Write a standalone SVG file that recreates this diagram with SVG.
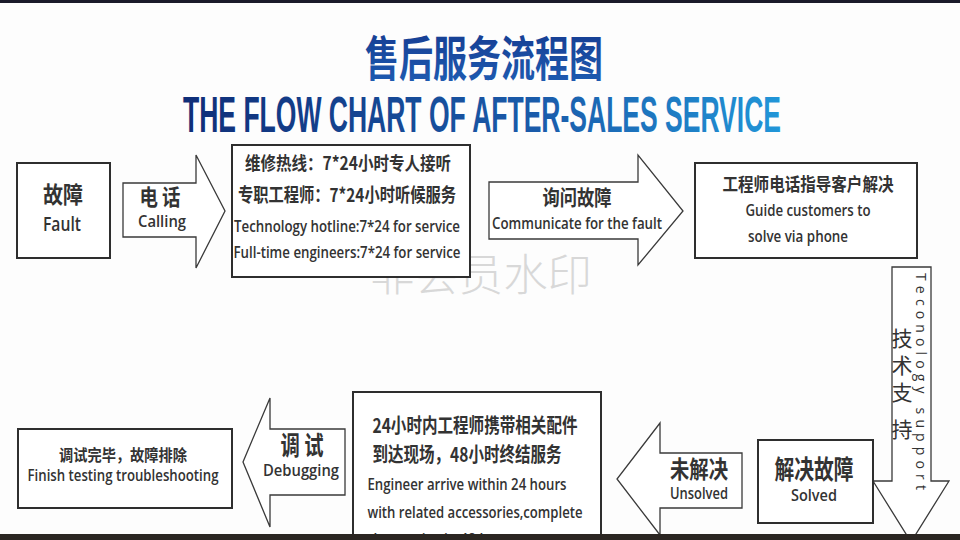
<svg xmlns="http://www.w3.org/2000/svg" width="960" height="540" viewBox="0 0 960 540">
<defs>
<linearGradient id="gCn" x1="0" y1="0" x2="0" y2="1">
<stop offset="0" stop-color="#14378c"/><stop offset="1" stop-color="#1f5fb5"/>
</linearGradient>
<linearGradient id="gEn" x1="0" y1="0" x2="1" y2="0">
<stop offset="0" stop-color="#0f2e78"/><stop offset="0.6" stop-color="#1a5cab"/><stop offset="1" stop-color="#2196d8"/>
</linearGradient>
<style>
.box{fill:#fff;stroke:#2e2e2e;stroke-width:2}
.arr{fill:#fff;stroke:#3a3a3a;stroke-width:1.3}
.cn{font-family:"Noto Sans CJK SC","Noto Sans",sans-serif;font-weight:700;fill:#333;text-anchor:middle}
.en{font-family:"Open Sans","Noto Sans",sans-serif;font-weight:600;fill:#333;text-anchor:middle}
.vcn{font-family:"Noto Sans CJK SC","Noto Sans",sans-serif;font-weight:400;font-size:21px;fill:#333;text-anchor:middle}
</style>
</defs>
<rect width="960" height="540" fill="#fdfdfd"/>
<rect width="960" height="3" fill="#1a1a2a"/>

<g id="title">
<text x="484" y="76" class="cn" font-size="48" style="fill:url(#gCn)" textLength="238" lengthAdjust="spacingAndGlyphs">售后服务流程图</text>
<text x="482" y="132" font-family="'Liberation Sans',Arial,sans-serif" font-weight="700" font-size="50" text-anchor="middle" fill="url(#gEn)" textLength="598" lengthAdjust="spacingAndGlyphs">THE FLOW CHART OF AFTER-SALES SERVICE</text>
</g>

<g id="watermark">
<text x="481" y="291" font-family="'Noto Sans CJK SC',sans-serif" font-weight="300" font-size="44" fill="#d8d8d8" text-anchor="middle" textLength="222" lengthAdjust="spacingAndGlyphs">非会员水印</text>
</g>

<g id="connectors">
<g id="arrow-calling">
<polygon class="arr" points="123,183 196,183 196,155 225,211 196,268 196,237 123,237"/>
<text x="160" y="205" class="cn" font-size="22" textLength="41" lengthAdjust="spacingAndGlyphs">电 话</text>
<text x="162" y="227" class="en" font-size="17" textLength="48" lengthAdjust="spacingAndGlyphs">Calling</text>
</g>
<g id="arrow-ask">
<polygon class="arr" points="489,182 638,182 638,155 683,211 638,265 638,239 489,239"/>
<text x="577" y="205" class="cn" font-size="21" textLength="69" lengthAdjust="spacingAndGlyphs">询问故障</text>
<text x="577" y="229" class="en" font-size="16" textLength="170" lengthAdjust="spacingAndGlyphs">Communicate for the fault</text>
</g>
<g id="arrow-support">
<polygon class="arr" points="892,267 931,267 931,481 949,481 911,542 873,481 892,481"/>
<text x="902" y="346" class="vcn">技</text>
<text x="902" y="373" class="vcn">术</text>
<text x="902" y="400" class="vcn">支</text>
<text x="902" y="437" class="vcn">持</text>
<text transform="translate(916,273) rotate(90)" x="0" y="0" font-family="'Open Sans','Noto Sans',sans-serif" font-size="14" fill="#333" textLength="217" lengthAdjust="spacing">Teconology support</text>
</g>
<g id="arrow-unsolved">
<polygon class="arr" points="742,453 660,453 660,423 617,479 660,535 660,508 742,508"/>
<text x="699" y="478" class="cn" font-size="24" textLength="58" lengthAdjust="spacingAndGlyphs">未解决</text>
<text x="699" y="499" class="en" font-size="16" textLength="58" lengthAdjust="spacingAndGlyphs">Unsolved</text>
</g>
<g id="arrow-debug">
<polygon class="arr" points="345,429 270,429 270,398 243,462 270,527 270,495 345,495"/>
<text x="302" y="455" class="cn" font-size="26" textLength="43" lengthAdjust="spacingAndGlyphs">调 试</text>
<text x="301" y="476" class="en" font-size="17" textLength="76" lengthAdjust="spacingAndGlyphs">Debugging</text>
</g>
</g>

<g id="node-fault">
<rect class="box" x="17" y="163" width="93" height="95"/>
<text x="63" y="203" class="cn" font-size="23" textLength="40" lengthAdjust="spacingAndGlyphs">故障</text>
<text x="62" y="231" class="en" font-size="19" textLength="38" lengthAdjust="spacingAndGlyphs">Fault</text>
</g>

<g id="node-hotline">
<rect class="box" x="232" y="145" width="238" height="132"/>
<text x="348" y="170" class="cn" font-size="18" textLength="206" lengthAdjust="spacingAndGlyphs">维修热线：7*24小时专人接听</text>
<text x="347" y="202" class="cn" font-size="19" textLength="218" lengthAdjust="spacingAndGlyphs">专职工程师：7*24小时听候服务</text>
<text x="347" y="232" class="en" font-size="16" textLength="226" lengthAdjust="spacingAndGlyphs">Technology hotline:7*24 for service</text>
<text x="347" y="258" class="en" font-size="16" textLength="227" lengthAdjust="spacingAndGlyphs">Full-time engineers:7*24 for service</text>
</g>

<g id="node-guide">
<rect class="box" x="695" y="163" width="222" height="95"/>
<text x="808" y="191" class="cn" font-size="18" textLength="171" lengthAdjust="spacingAndGlyphs">工程师电话指导客户解决</text>
<text x="808" y="216" class="en" font-size="16" font-weight="500" textLength="125" lengthAdjust="spacingAndGlyphs">Guide customers to</text>
<text x="798" y="242" class="en" font-size="16" font-weight="500" textLength="100" lengthAdjust="spacingAndGlyphs">solve via phone</text>
</g>

<g id="node-solved">
<rect class="box" x="758" y="440" width="115" height="83"/>
<text x="814" y="479" class="cn" font-size="26" textLength="79" lengthAdjust="spacingAndGlyphs">解决故障</text>
<text x="814" y="501" class="en" font-size="17" font-weight="500" textLength="46" lengthAdjust="spacingAndGlyphs">Solved</text>
</g>

<g id="node-onsite">
<rect class="box" x="353" y="392" width="248" height="160"/>
<text x="475" y="433" class="cn" font-size="20" textLength="205" lengthAdjust="spacingAndGlyphs">24小时内工程师携带相关配件</text>
<text x="467" y="462" class="cn" font-size="20" textLength="189" lengthAdjust="spacingAndGlyphs">到达现场，48小时终结服务</text>
<text x="467" y="490" class="en" font-size="17" textLength="199" lengthAdjust="spacingAndGlyphs">Engineer arrive within 24 hours</text>
<text x="475" y="518" class="en" font-size="17" textLength="215" lengthAdjust="spacingAndGlyphs">with related accessories,complete</text>
<text x="368" y="545" font-family="'Open Sans','Noto Sans',sans-serif" font-weight="600" font-size="17" fill="#333" textLength="150" lengthAdjust="spacingAndGlyphs">the service in 48 hours</text>
</g>

<g id="node-finish">
<rect class="box" x="18" y="429" width="214" height="79"/>
<text x="123" y="461" class="cn" font-size="16" textLength="128" lengthAdjust="spacingAndGlyphs">调试完毕，故障排除</text>
<text x="123" y="481" class="en" font-size="17" textLength="191" lengthAdjust="spacingAndGlyphs">Finish testing troubleshooting</text>
</g>

<rect x="0" y="534" width="960" height="6" fill="#2b2622"/>
</svg>
